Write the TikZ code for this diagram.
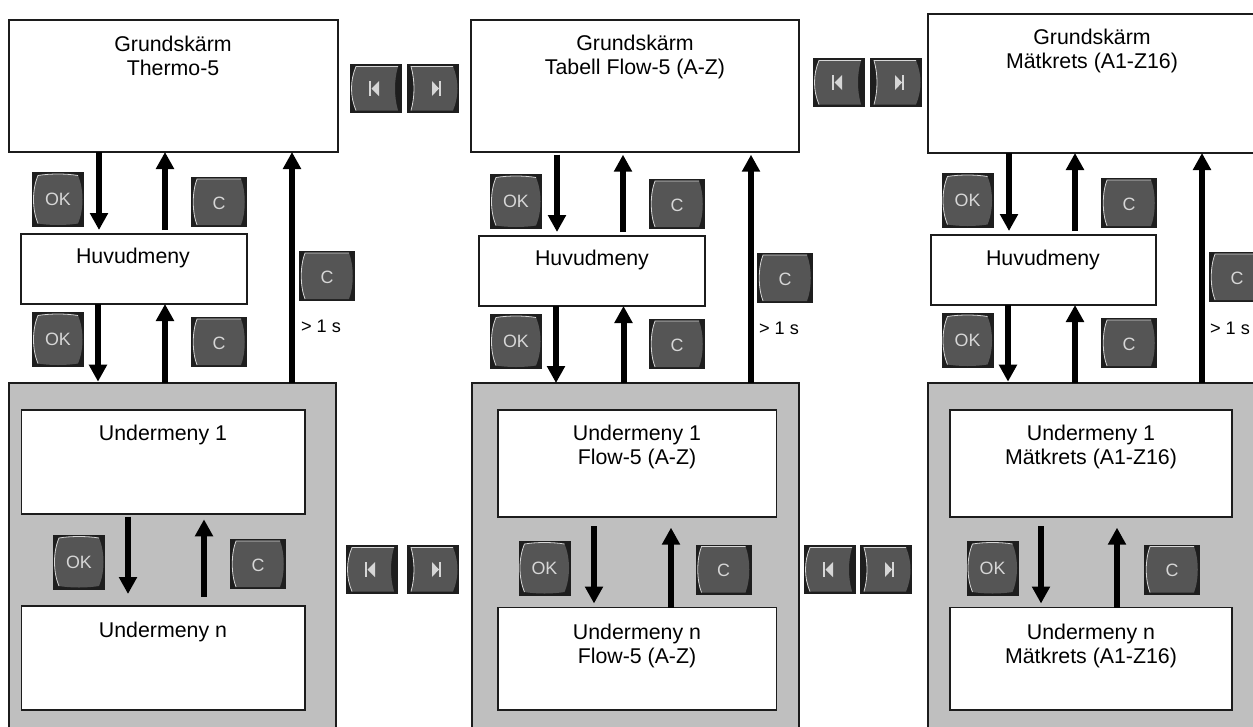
\documentclass[tikz,border=0pt]{standalone}
\usepackage{fontspec}
\setmainfont{Liberation Sans}
\usetikzlibrary{arrows.meta}
\definecolor{knappyta}{HTML}{555555}
\definecolor{knappljus}{HTML}{D6D6D6}
\definecolor{knappsvart}{HTML}{1E1E1E}
\definecolor{ramgra}{HTML}{BFBFBF}
\definecolor{linje}{HTML}{1C1C1C}
\tikzset{
  ruta/.style 2 args={draw=linje, fill=white, line width=1.4pt, outer sep=0pt, inner sep=0pt,
    minimum width=#1*.75pt, minimum height=#2*.75pt},
  ram/.style 2 args={ruta={#1}{#2}, fill=ramgra},
  rubrik/.style={font=\fontsize{16}{18.4}\selectfont, align=center, inner sep=0pt},
  tid/.style={font=\fontsize{13.6}{16}\selectfont, inner sep=0pt},
  pil/.style={->, line width=4.5pt, draw=black},
  knapptext/.style={text=knappljus, inner sep=0pt, font=\fontsize{13.4}{14}\selectfont},
  kant/.style={draw=knappljus, line width=.6pt},
  okknapp/.pic={
    \fill[knappsvart] (-26,-27.5) rectangle (26,27.5);
    \fill[knappyta] (-20,-24) .. controls (-8,-26) and (8,-26) .. (20,-24)
      .. controls (26,-10) and (26,10) .. (20,24) .. controls (8,26) and (-8,26) .. (-20,24)
      .. controls (-26,10) and (-26,-10) .. (-20,-24);
    \draw[kant] (-20,24) .. controls (-26,10) and (-26,-10) .. (-20,-24)
      .. controls (-8,-26) and (8,-26) .. (20,-24);
    \node[knapptext] (-text) at (0,0) {OK};
  },
  cknapp/.pic={
    \fill[knappsvart] (-28,-25) rectangle (28,25);
    \fill[knappyta] (-22,-23) -- (22,-23) .. controls (27,-10) and (27,10) .. (22,23)
      -- (-22,23) .. controls (-27,10) and (-27,-10) .. (-22,-23);
    \draw[kant] (-22,23) .. controls (-27,10) and (-27,-10) .. (-22,-23) -- (22,-23);
    \node[knapptext] (-text) at (0,1) {C};
  },
  bakknapp/.pic={
    \fill[knappsvart] (-26,-24.5) rectangle (26,24.5);
    \fill[knappyta] (-20,-22) -- (22,-22) .. controls (18,-8) and (18,8) .. (22,22)
      -- (-20,22) .. controls (-26,8) and (-26,-8) .. (-20,-22);
    \draw[kant] (-20,22) .. controls (-26,8) and (-26,-8) .. (-20,-22) -- (22,-22);
    \fill[knappljus] (-7,-7.5) rectangle (-5,7.5);
    \fill[knappljus] (-4.5,0) -- (3,-7.5) -- (3,7.5) -- cycle;
  },
  framknapp/.pic={
    \fill[knappsvart] (-26,-24.5) rectangle (26,24.5);
    \fill[knappyta] (-22,-22) -- (20,-22) .. controls (26,-8) and (26,8) .. (20,22)
      -- (-22,22) .. controls (-18,8) and (-18,-8) .. (-22,-22);
    \draw[kant] (-22,22) .. controls (-18,8) and (-18,-8) .. (-22,-22) -- (20,-22);
    \fill[knappljus] (6,-7.5) rectangle (8,7.5);
    \fill[knappljus] (6,0) -- (-1,-7.5) -- (-1,7.5) -- cycle;
  }
}
\begin{document}
\begin{tikzpicture}[x=.75pt, y=-.75pt, >={Triangle[length=12.75pt,width=13pt]}]
  \useasboundingbox (0,0) rectangle (1253,726);
  \clip (0,0) rectangle (1253,726);
  % kolumn 1
  \node[ruta={329}{132}] (grundA) at (173.5,86) {};
  \node[ruta={226}{70}] (huvudA) at (134,269) {};
  \node[ram={327}{357}] (ramA) at (172.5,561.5) {};
  \node[ruta={283.5}{104}] (under1A) at (163.25,462) {};
  \node[ruta={283.5}{104}] (undernA) at (163.25,658) {};
  \node[rubrik] (tgrundA) at (173,56) {Grundskärm\\Thermo-5};
  \node[rubrik] (thuvudA) at (133,258) {Huvudmeny};
  \node[rubrik] (tunder1A) at (163,435) {Undermeny 1};
  \node[rubrik] (tundernA) at (163,632) {Undermeny n};
  \draw[pil, shorten >=3pt] (grundA.south -| 99,0) -- (huvudA.north -| 99,0);
  \draw[pil, shorten <=3pt] (huvudA.north -| 165,0) -- (grundA.south -| 165,0);
  \draw[pil] (ramA.north -| 292,0) -- (grundA.south -| 292,0);
  \draw[pil, shorten >=1pt] (huvudA.south -| 98,0) -- (ramA.north -| 98,0);
  \draw[pil] (ramA.north -| 165,0) -- (huvudA.south -| 165,0);
  \draw[pil, shorten <=2pt, shorten >=9pt] (under1A.south -| 128,0) -- (undernA.north -| 128,0);
  \draw[pil, shorten <=7pt, shorten >=4pt] (undernA.north -| 204,0) -- (under1A.south -| 204,0);
  \pic (okA) at (58,199.5) {okknapp};
  \pic (cA) at (219,202) {cknapp};
  \pic (clangA) at (327,276) {cknapp};
  \pic (okB) at (58,339.5) {okknapp};
  \pic (cB) at (219,342) {cknapp};
  \pic (okC) at (79,562) {okknapp};
  \pic (cC) at (258,564) {cknapp};
  \node[tid] (tidA) at (321,326) {> 1 s};
  \pic (bakA) at (376,88.5) {bakknapp};
  \pic (framA) at (433,88.5) {framknapp};
  \pic (bakB) at (372,569.5) {bakknapp};
  \pic (framB) at (433,569.5) {framknapp};
  % kolumn 2
  \node[ruta={328}{132}] (grundD) at (635,86) {};
  \node[ruta={226}{70}] (huvudD) at (592,271) {};
  \node[ram={327}{357}] (ramD) at (635.5,561.5) {};
  \node[ruta={278.5}{107}] (under1D) at (637.25,463.5) {};
  \node[ruta={278.5}{102.5}] (undernD) at (637.25,658.75) {};
  \node[rubrik] (tgrundD) at (635,57) {Grundskärm\\Tabell Flow-5 (A-Z)};
  \node[rubrik] (thuvudD) at (592,260) {Huvudmeny};
  \node[rubrik] (tunder1D) at (637,447) {Undermeny 1\\Flow-5 (A-Z)};
  \node[rubrik] (tundernD) at (637,646) {Undermeny n\\Flow-5 (A-Z)};
  \draw[pil, shorten <=2pt, shorten >=3pt] (grundD.south -| 557,0) -- (huvudD.north -| 557,0);
  \draw[pil, shorten <=3pt, shorten >=2pt] (huvudD.north -| 623,0) -- (grundD.south -| 623,0);
  \draw[pil, shorten >=2pt] (ramD.north -| 751,0) -- (grundD.south -| 751,0);
  \draw[pil] (huvudD.south -| 556,0) -- (ramD.north -| 556,0);
  \draw[pil] (ramD.north -| 623.5,0) -- (huvudD.south -| 623.5,0);
  \draw[pil, shorten <=7pt, shorten >=3pt] (under1D.south -| 594,0) -- (undernD.north -| 594,0);
  \draw[pil, shorten >=8pt] (undernD.north -| 671,0) -- (under1D.south -| 671,0);
  \pic (okD) at (516,201.5) {okknapp};
  \pic (cD) at (677,204) {cknapp};
  \pic (clangD) at (785,278) {cknapp};
  \pic (okE) at (516,341.5) {okknapp};
  \pic (cE) at (677,344) {cknapp};
  \pic (okF) at (544.5,568) {okknapp};
  \pic (cF) at (723.5,569.5) {cknapp};
  \node[tid] (tidD) at (779,328) {> 1 s};
  \pic (bakD) at (839,82.5) {bakknapp};
  \pic (framD) at (896,82.5) {framknapp};
  \pic (bakE) at (830,569.5) {bakknapp};
  \pic (framE) at (886,569.5) {framknapp};
  % kolumn 3
  \node[ruta={342}{139}] (grundG) at (1099,83.5) {};
  \node[ruta={225}{70}] (huvudG) at (1043.5,270) {};
  \node[ram={342}{357}] (ramG) at (1099,561.5) {};
  \node[ruta={282}{107}] (under1G) at (1091,463.5) {};
  \node[ruta={282}{102.5}] (undernG) at (1091,658.75) {};
  \node[rubrik] (tgrundG) at (1092,51) {Grundskärm\\Mätkrets (A1-Z16)};
  \node[rubrik] (thuvudG) at (1043,260) {Huvudmeny};
  \node[rubrik] (tunder1G) at (1091,447) {Undermeny 1\\Mätkrets (A1-Z16)};
  \node[rubrik] (tundernG) at (1091,646) {Undermeny n\\Mätkrets (A1-Z16)};
  \draw[pil, shorten >=3pt] (grundG.south -| 1009,0) -- (huvudG.north -| 1009,0);
  \draw[pil, shorten <=3pt] (huvudG.north -| 1075,0) -- (grundG.south -| 1075,0);
  \draw[pil] (ramG.north -| 1202,0) -- (grundG.south -| 1202,0);
  \draw[pil, shorten >=1pt] (huvudG.south -| 1008,0) -- (ramG.north -| 1008,0);
  \draw[pil] (ramG.north -| 1075,0) -- (huvudG.south -| 1075,0);
  \draw[pil, shorten <=7pt, shorten >=3pt] (under1G.south -| 1041,0) -- (undernG.north -| 1041,0);
  \draw[pil, shorten >=8pt] (undernG.north -| 1117,0) -- (under1G.south -| 1117,0);
  \pic (okG) at (967.5,200.5) {okknapp};
  \pic (cG) at (1129,203) {cknapp};
  \pic (clangG) at (1237,277) {cknapp};
  \pic (okH) at (967.5,340.5) {okknapp};
  \pic (cH) at (1129,343) {cknapp};
  \pic (okI) at (992.5,568) {okknapp};
  \pic (cI) at (1172,569.5) {cknapp};
  \node[tid] (tidG) at (1230,328) {> 1 s};
\end{tikzpicture}
\end{document}
